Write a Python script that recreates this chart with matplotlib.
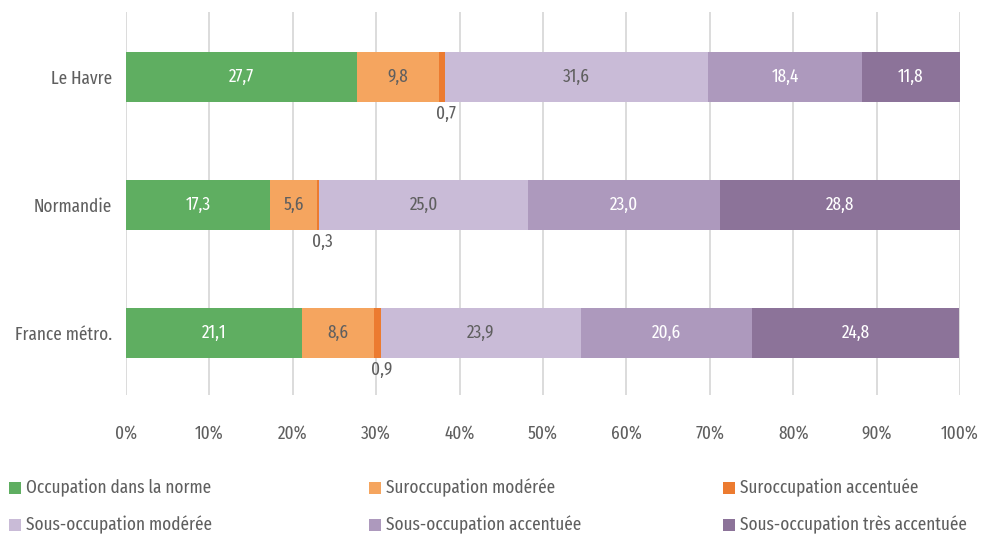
#!/usr/bin/env python3
"""Occupation des logements : Le Havre, Normandie, France metro."""

import matplotlib

matplotlib.use("Agg")
import matplotlib.pyplot as plt  # noqa: E402
import numpy as np  # noqa: E402
from matplotlib.patches import Rectangle  # noqa: E402


places = ["Le Havre", "Normandie", "France métro."]
categories = [
    "Occupation dans la norme",
    "Suroccupation modérée",
    "Suroccupation accentuée",
    "Sous-occupation modérée",
    "Sous-occupation accentuée",
    "Sous-occupation très accentuée",
]
norme = [27.7, 17.3, 21.1]
sur_moderee = [9.8, 5.6, 8.6]
sur_accentuee = [0.7, 0.3, 0.9]
sous_moderee = [31.6, 25.0, 23.9]
sous_accentuee = [18.4, 23.0, 20.6]
sous_tres = [11.8, 28.8, 24.8]

colors = ["#5fae61", "#f5a55f", "#ec7b30", "#c9bbd7", "#ad99bd", "#8c7399"]
TEXT = "#5f5f5f"
label_colors = ["white", TEXT, TEXT, TEXT, "white", "white"]
FS = 13.5
W, H = 984, 535

plt.rcParams["font.family"] = ["Fira Sans Extra Condensed", "DejaVu Sans"]

fig = plt.figure(figsize=(9.84, 5.35), dpi=100)
ax = fig.add_axes([126 / W, 1 - 395 / H, 834 / W, 383 / H])

series = [norme, sur_moderee, sur_accentuee, sous_moderee, sous_accentuee, sous_tres]
y = np.arange(len(places))
left = np.zeros(len(places))
for idx, (vals, color) in enumerate(zip(series, colors)):
    vals = np.array(vals)
    ax.barh(y, vals, left=left, height=0.39, color=color, zorder=3)
    for yi, (lv, v) in enumerate(zip(left, vals)):
        txt = f"{v:.1f}".replace(".", ",")
        if v < 2:
            ax.text(lv + v / 2 + 0.5, yi + 0.29, txt, ha="center", va="center",
                    fontsize=FS, color=TEXT, zorder=4)
        else:
            ax.text(lv + v / 2, yi, txt, ha="center", va="center",
                    fontsize=FS, color=label_colors[idx], zorder=4)
    left = left + vals

ax.set_xlim(0, 100)
ax.set_ylim(2.484, -0.508)
ax.set_yticks(y, places)
ax.set_xticks(np.arange(0, 101, 10), [f"{v}%" for v in range(0, 101, 10)])
ax.grid(axis="x", color="#d9d9d9", linewidth=1.3, zorder=0)
for side in ["top", "right", "bottom", "left"]:
    ax.spines[side].set_visible(False)
ax.tick_params(length=0, labelsize=FS, colors=TEXT)
ax.tick_params(axis="x", pad=21)
ax.tick_params(axis="y", pad=10)

# legend drawn by hand: 3 columns x 2 rows
col_x = [9, 369, 723]
row_y = [488, 525]
for i, (name, color) in enumerate(zip(categories, colors)):
    cx = col_x[i % 3]
    cy = row_y[i // 3]
    fig.patches.append(Rectangle((cx / W, 1 - (cy + 6) / H), 12 / W, 12 / H,
                                 transform=fig.transFigure, facecolor=color,
                                 edgecolor="none"))
    fig.text((cx + 17) / W, 1 - cy / H, name, fontsize=FS, color=TEXT,
             ha="left", va="center")

fig.savefig("out.png", dpi=100)
